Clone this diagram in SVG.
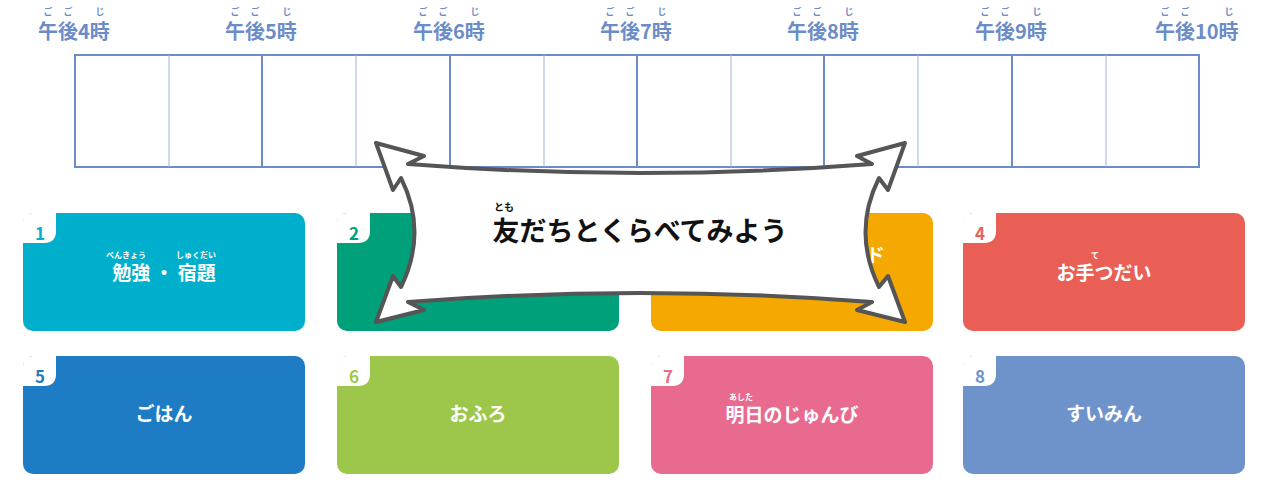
<svg xmlns="http://www.w3.org/2000/svg" width="1280" height="488" viewBox="0 0 1280 488">
<style>
text{font-family:"Noto Sans CJK JP","Noto Sans",sans-serif;font-weight:bold}
.t{fill:#6b8cc8;font-size:20px}
.r{fill:#6b8cc8;font-size:9px;text-anchor:middle}
.lab{fill:#fff;font-size:19px;text-anchor:middle}
.rw{fill:#fff;font-size:8px;text-anchor:middle}
.num{font-size:17px;text-anchor:middle}
.hr{stroke:#6b8cc8;stroke-width:2}
.hh{stroke:#9db3de;stroke-width:1}
</style>
<defs>
<path id="badge" d="M10 0H33V18Q33 30 21 30H0V10Q0 0 10 0Z" fill="#fff"/>
</defs>
<g id="timeline">
<rect x="75" y="55" width="1124" height="112" fill="#fff" class="hr"/>
<g class="hh"><line x1="169" y1="55" x2="169" y2="167"/><line x1="356" y1="55" x2="356" y2="167"/><line x1="544" y1="55" x2="544" y2="167"/><line x1="731" y1="55" x2="731" y2="167"/><line x1="918" y1="55" x2="918" y2="167"/><line x1="1106" y1="55" x2="1106" y2="167"/></g>
<g class="hr"><line x1="262" y1="55" x2="262" y2="167"/><line x1="450" y1="55" x2="450" y2="167"/><line x1="637" y1="55" x2="637" y2="167"/><line x1="824" y1="55" x2="824" y2="167"/><line x1="1012" y1="55" x2="1012" y2="167"/></g>
<g id="labels">
<text class="t" x="38" y="39">午後4時</text><text class="r" x="48" y="15">ご</text><text class="r" x="68" y="15">ご</text><text class="r" x="100" y="15">じ</text>
<text class="t" x="225" y="39">午後5時</text><text class="r" x="235" y="15">ご</text><text class="r" x="255" y="15">ご</text><text class="r" x="287" y="15">じ</text>
<text class="t" x="413" y="39">午後6時</text><text class="r" x="423" y="15">ご</text><text class="r" x="443" y="15">ご</text><text class="r" x="475" y="15">じ</text>
<text class="t" x="600" y="39">午後7時</text><text class="r" x="610" y="15">ご</text><text class="r" x="630" y="15">ご</text><text class="r" x="662" y="15">じ</text>
<text class="t" x="787" y="39">午後8時</text><text class="r" x="797" y="15">ご</text><text class="r" x="817" y="15">ご</text><text class="r" x="849" y="15">じ</text>
<text class="t" x="975" y="39">午後9時</text><text class="r" x="985" y="15">ご</text><text class="r" x="1005" y="15">ご</text><text class="r" x="1037" y="15">じ</text>
<text class="t" x="1155" y="39">午後10時</text><text class="r" x="1165" y="15">ご</text><text class="r" x="1185" y="15">ご</text><text class="r" x="1229" y="15">じ</text>
</g>
</g>
<g id="card1"><rect x="23" y="213" width="282" height="118" rx="10" fill="#00afcc"/><use href="#badge" x="23" y="213"/><text class="num" x="40" y="240" fill="#00afcc">1</text>
<text class="lab" x="164" y="280">勉強 ・ 宿題</text><text class="rw" x="126" y="258">べんきょう</text><text class="rw" x="196" y="258">しゅくだい</text></g>
<g id="card2"><rect x="337" y="213" width="282" height="118" rx="10" fill="#00a07a"/><use href="#badge" x="337" y="213"/><text class="num" x="354" y="240" fill="#00a07a">2</text></g>
<g id="card3"><rect x="651" y="213" width="282" height="118" rx="10" fill="#f5a800"/><use href="#badge" x="651" y="213"/><text class="num" x="668" y="240" fill="#f5a800">3</text>
<text class="lab" x="885" y="262" text-anchor="end" style="text-anchor:end">ド</text></g>
<g id="card4"><rect x="963" y="213" width="282" height="118" rx="10" fill="#e95f55"/><use href="#badge" x="963" y="213"/><text class="num" x="980" y="240" fill="#e95f55">4</text>
<text class="lab" x="1104" y="280">お手つだい</text><text class="rw" x="1095" y="258">て</text></g>
<g id="card5"><rect x="23" y="356" width="282" height="118" rx="10" fill="#1e7cc4"/><use href="#badge" x="23" y="356"/><text class="num" x="40" y="383" fill="#1e7cc4">5</text>
<text class="lab" x="164" y="421">ごはん</text></g>
<g id="card6"><rect x="337" y="356" width="282" height="118" rx="10" fill="#9dc74a"/><use href="#badge" x="337" y="356"/><text class="num" x="354" y="383" fill="#9dc74a">6</text>
<text class="lab" x="478" y="421">おふろ</text></g>
<g id="card7"><rect x="651" y="356" width="282" height="118" rx="10" fill="#e86b8f"/><use href="#badge" x="651" y="356"/><text class="num" x="668" y="383" fill="#e86b8f">7</text>
<text class="lab" x="792" y="422">明日のじゅんび</text><text class="rw" x="741" y="400">あした</text></g>
<g id="card8"><rect x="963" y="356" width="282" height="118" rx="10" fill="#6e93cb"/><use href="#badge" x="963" y="356"/><text class="num" x="980" y="383" fill="#6e93cb">8</text>
<text class="lab" x="1104" y="421">すいみん</text></g>
<g id="banner">
<path d="M376 143L424 156L408 164Q640 182 872 164L857 156L905 143L888 190L879 178Q852 232 879 287L888 276L905 322L857 310L872 302Q640 284 408 302L424 310L376 322L393 276L401 287Q428 232 401 178L393 190Z" fill="#fff" stroke="#555" stroke-width="4" stroke-linejoin="round"/>
<text x="640" y="241" font-size="27" fill="#111" text-anchor="middle">友だちとくらべてみよう</text>
<text x="504" y="211" font-size="10" fill="#111" text-anchor="middle">とも</text>
</g>
</svg>
